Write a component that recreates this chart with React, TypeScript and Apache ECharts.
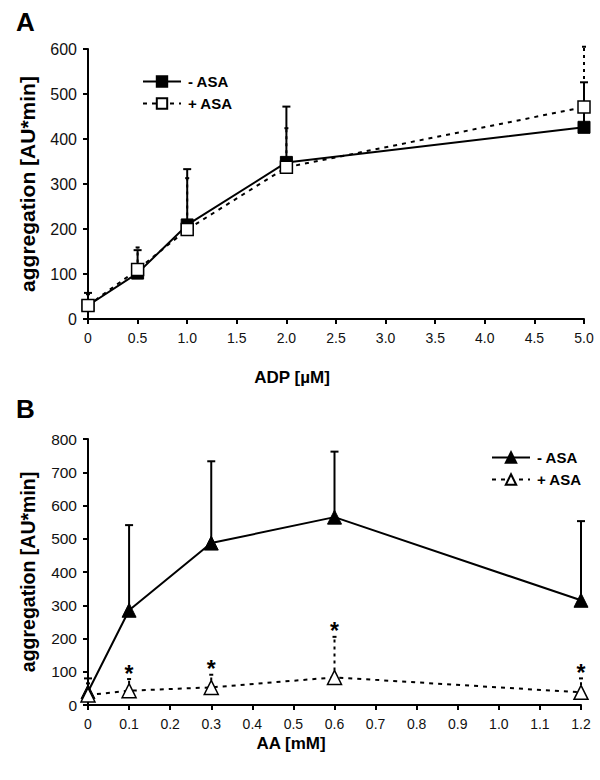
import React, { useEffect, useRef } from 'react';
import * as echarts from 'echarts';

// Panel A: ADP
const adpX = [0, 0.5, 1, 2, 5];
const adpMinusAsa = [30, 102, 209, 348, 426];
const adpMinusAsaSd = [28, 51, 124, 124, 100];
const adpPlusAsa = [30, 110, 199, 337, 471];
const adpPlusAsaSd = [25, 49, 114, 87, 134];

// Panel B: AA
const aaX = [0, 0.1, 0.3, 0.6, 1.2];
const aaMinusAsa = [40, 285, 487, 565, 315];
const aaMinusAsaSd = [40, 256, 246, 197, 238];
const aaPlusAsa = [30, 43, 53, 83, 38];
const aaPlusAsaSd = [35, 35, 38, 122, 42];
const aaSignificant = [0, 1, 1, 1, 1];

const legendLabels: Record<string, string> = {
  adpMinus: '- ASA',
  adpPlus: '+ ASA',
  aaMinus: '- ASA',
  aaPlus: '+ ASA',
};

const FONT = '"Liberation Sans", Arial, Helvetica, sans-serif';

function errRender(dashed: boolean) {
  return (params: any, api: any) => {
    const x = api.value(0);
    const y = api.value(1);
    const top = api.value(2);
    const star = api.value(3);
    const p0 = api.coord([x, y]);
    const p1 = api.coord([x, top]);
    const stroke = '#000';
    const children: any[] = [
      {
        type: 'line',
        shape: { x1: p0[0], y1: p0[1], x2: p1[0], y2: p1[1] },
        style: { stroke, lineWidth: 2, lineDash: dashed ? [3, 4] : null },
      },
      {
        type: 'line',
        shape: { x1: p1[0] - (dashed ? 2 : 4), y1: p1[1], x2: p1[0] + (dashed ? 2 : 4), y2: p1[1] },
        style: { stroke, lineWidth: 2 },
      },
    ];
    if (star) {
      children.push({
        type: 'text',
        x: p1[0],
        y: p1[1] + 6,
        style: {
          text: '*',
          fontSize: 23,
          fontWeight: 'bold',
          fontFamily: FONT,
          fill: '#000',
          align: 'center',
          verticalAlign: 'bottom',
        },
      });
    }
    return { type: 'group', children };
  };
}

function tickFmt(v: number) {
  return v === 0 ? '0' : v.toFixed(1);
}

export default function App() {
  const ref = useRef<HTMLDivElement>(null);

  useEffect(() => {
    document.body.style.margin = '0';
    const chart = echarts.init(ref.current!, undefined, { renderer: 'svg' });

    const axisCommon = {
      axisLine: { show: true, onZero: false, lineStyle: { color: '#000', width: 2 } },
      axisTick: { show: true, inside: false, length: 5, lineStyle: { color: '#000', width: 2 } },
      splitLine: { show: false },
    };
    const labelCommon = { color: '#111', fontSize: 14, fontFamily: FONT };
    const yName = {
      name: 'aggregation [AU*min]',
      nameLocation: 'middle',
      nameRotate: 90,
      nameTextStyle: { fontSize: 21, fontWeight: 'bold', fontFamily: FONT, color: '#000' },
    };

    const legendCommon = {
      orient: 'vertical',
      itemWidth: 38,
      itemHeight: 13,
      itemGap: 7,
      formatter: (n: string) => legendLabels[n],
      textStyle: { fontSize: 15, fontWeight: 'bold', fontFamily: FONT, color: '#000', padding: [0, 0, 0, 2] },
      selectedMode: false,
    };

    const lineSolid = { color: '#000', width: 2 };
    const lineDashed = { color: '#000', width: 2, type: [4, 5] };

    chart.setOption({
      animation: false,
      backgroundColor: '#fff',
      grid: [
        { left: 88, top: 49, width: 496, height: 270 },
        { left: 88, top: 439, width: 493, height: 266 },
      ],
      xAxis: [
        {
          type: 'value', gridIndex: 0, min: 0, max: 5, interval: 0.5,
          ...axisCommon,
          axisLabel: { ...labelCommon, margin: 12, formatter: tickFmt },
        },
        {
          type: 'value', gridIndex: 1, min: 0, max: 1.2, interval: 0.1,
          ...axisCommon,
          axisLabel: { ...labelCommon, margin: 12, formatter: tickFmt },
        },
      ],
      yAxis: [
        {
          type: 'value', gridIndex: 0, min: 0, max: 600, interval: 100,
          ...axisCommon,
          ...yName,
          nameGap: 50,
          axisLabel: { ...labelCommon, fontSize: 16, margin: 11 },
        },
        {
          type: 'value', gridIndex: 1, min: 0, max: 800, interval: 100,
          ...axisCommon,
          ...yName,
          nameGap: 50,
          nameTextStyle: { ...yName.nameTextStyle, fontSize: 19.5 },
          axisLabel: { ...labelCommon, fontSize: 15.5, margin: 11 },
        },
      ],
      legend: [
        { ...legendCommon, data: ['adpMinus', 'adpPlus'], left: 137, top: 69 },
        { ...legendCommon, data: ['aaMinus', 'aaPlus'], left: 486, top: 445 },
      ],
      graphic: [
        { type: 'text', left: 16, top: 9, style: { text: 'A', fontSize: 26, fontWeight: 'bold', fontFamily: FONT, fill: '#000' } },
        { type: 'text', left: 16, top: 396, style: { text: 'B', fontSize: 26, fontWeight: 'bold', fontFamily: FONT, fill: '#000' } },
        { type: 'text', x: 292, y: 377, style: { text: 'ADP [µM]', fontSize: 17, fontWeight: 'bold', fontFamily: FONT, fill: '#000', align: 'center', verticalAlign: 'middle' } },
        { type: 'text', x: 291, y: 743, style: { text: 'AA [mM]', fontSize: 17, fontWeight: 'bold', fontFamily: FONT, fill: '#000', align: 'center', verticalAlign: 'middle' } },
      ],
      series: [
        {
          type: 'custom', xAxisIndex: 0, yAxisIndex: 0, z: 1,
          renderItem: errRender(true),
          encode: { x: 0, y: [1, 2] },
          data: adpX.map((x, i) => [x, adpPlusAsa[i], adpPlusAsa[i] + adpPlusAsaSd[i], 0]),
        },
        {
          type: 'custom', xAxisIndex: 0, yAxisIndex: 0, z: 1,
          renderItem: errRender(false),
          encode: { x: 0, y: [1, 2] },
          data: adpX.map((x, i) => [x, adpMinusAsa[i], adpMinusAsa[i] + adpMinusAsaSd[i], 0]),
        },
        {
          name: 'adpMinus', type: 'line', xAxisIndex: 0, yAxisIndex: 0, z: 3,
          data: adpX.map((x, i) => [x, adpMinusAsa[i]]),
          symbol: 'rect', symbolSize: 12,
          lineStyle: lineSolid,
          itemStyle: { color: '#000', borderColor: '#000', borderWidth: 1 },
        },
        {
          name: 'adpPlus', type: 'line', xAxisIndex: 0, yAxisIndex: 0, z: 4,
          data: adpX.map((x, i) => [x, adpPlusAsa[i]]),
          symbol: 'rect', symbolSize: 12,
          lineStyle: lineDashed,
          itemStyle: { color: '#fff', borderColor: '#000', borderWidth: 1.5 },
        },
        {
          type: 'custom', xAxisIndex: 1, yAxisIndex: 1, z: 1,
          renderItem: errRender(true),
          encode: { x: 0, y: [1, 2] },
          data: aaX.map((x, i) => [x, aaPlusAsa[i], aaPlusAsa[i] + aaPlusAsaSd[i], aaSignificant[i]]),
        },
        {
          type: 'custom', xAxisIndex: 1, yAxisIndex: 1, z: 1,
          renderItem: errRender(false),
          encode: { x: 0, y: [1, 2] },
          data: aaX.map((x, i) => [x, aaMinusAsa[i], aaMinusAsa[i] + aaMinusAsaSd[i], 0]),
        },
        {
          name: 'aaMinus', type: 'line', xAxisIndex: 1, yAxisIndex: 1, z: 3,
          data: aaX.map((x, i) => [x, aaMinusAsa[i]]),
          symbol: 'triangle', symbolSize: 14,
          lineStyle: lineSolid,
          itemStyle: { color: '#000', borderColor: '#000', borderWidth: 1 },
        },
        {
          name: 'aaPlus', type: 'line', xAxisIndex: 1, yAxisIndex: 1, z: 4,
          data: aaX.map((x, i) => [x, aaPlusAsa[i]]),
          symbol: 'triangle', symbolSize: 14,
          lineStyle: lineDashed,
          itemStyle: { color: '#fff', borderColor: '#000', borderWidth: 1.5 },
        },
      ],
    });

    return () => chart.dispose();
  }, []);

  return (
    <div
      ref={ref}
      style={{ position: 'absolute', left: 0, top: 0, width: 600, height: 780, background: '#fff' }}
    />
  );
}
